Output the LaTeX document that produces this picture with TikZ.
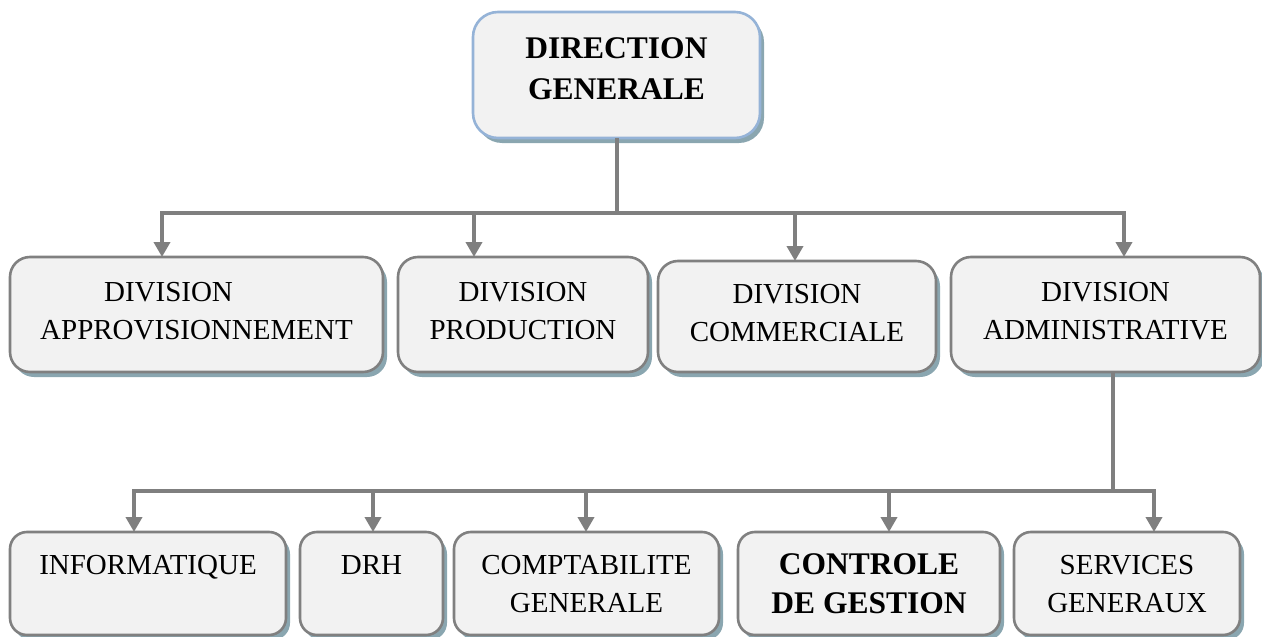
\documentclass[tikz,border=0pt]{standalone}
\usepackage{fontspec}
\setmainfont{Liberation Serif}
\usetikzlibrary{arrows.meta,shadows}
\definecolor{boxfill}{HTML}{F2F2F2}
\definecolor{boxline}{HTML}{808080}
\definecolor{topline}{HTML}{95B3D7}
\definecolor{shadowblue}{HTML}{8AA6B0}
\definecolor{linkgray}{HTML}{7F7F7F}
\tikzset{
	unitbox/.style={draw=boxline, line width=2.6pt, fill=boxfill, rounded corners=20pt, align=center, inner sep=0pt, outer sep=0pt, minimum height=115pt, text depth=8pt, font=\fontsize{29pt}{38pt}\selectfont, drop shadow={shadow xshift=4pt, shadow yshift=-5pt, fill=shadowblue, opacity=1}},
	servicebox/.style={unitbox, rounded corners=17pt, minimum height=103pt, text depth=0pt},
	headbox/.style={unitbox, draw=topline, rounded corners=25pt, minimum height=126pt, text depth=12pt, font=\fontsize{31.5pt}{41pt}\selectfont\bfseries},
	boldtext/.style={font=\fontsize{31.5pt}{39pt}\selectfont\bfseries},
	link/.style={draw=linkgray, line width=4pt},
	arrowlink/.style={link, -{Triangle[width=16pt,length=15pt]}}
}

\begin{document}
\begin{tikzpicture}[x=1pt, y=-1pt]
		%%%%% START %%%%%
		\useasboundingbox (0,0) rectangle (1262,637);
		
		\node[headbox, minimum width=287pt] (dg) at (616.5, 75) {DIRECTION\\GENERALE};
		
		\node[unitbox, minimum width=373pt] (appro) at (196.5, 314.5) {DIVISION\hspace*{56pt}\\APPROVISIONNEMENT};
		\node[unitbox, minimum width=250pt] (prod) at (523, 314.5) {DIVISION\\PRODUCTION};
		\node[unitbox, minimum width=278pt, minimum height=111pt] (comm) at (797, 316.5) {DIVISION\\COMMERCIALE};
		\node[unitbox, minimum width=309pt] (admin) at (1105.5, 314.5) {DIVISION\\ADMINISTRATIVE};
		
		\node[servicebox, minimum width=276pt] (info) at (148, 583.5) {INFORMATIQUE\\\phantom{I}};
		\node[servicebox, minimum width=143pt] (drh) at (371.5, 583.5) {DRH\\\phantom{I}};
		\node[servicebox, minimum width=265pt] (compta) at (586.5, 583.5) {COMPTABILITE\\GENERALE};
		\node[servicebox, boldtext, minimum width=262pt] (cdg) at (869, 583.5) {CONTROLE\\DE GESTION};
		\node[servicebox, minimum width=226pt] (sg) at (1127, 583.5) {SERVICES\\GENERAUX};
		
		% first level
		\coordinate (ta) at (162, 213);
		\coordinate (tb) at (474, 213);
		\coordinate (tc) at (795, 213);
		\coordinate (td) at (1124, 213);
		\draw[link] (dg.south) -- (dg.south |- ta);
		\draw[arrowlink] (td) -- (ta) -- (ta |- appro.north);
		\draw[arrowlink] (tb) -- (tb |- prod.north);
		\draw[arrowlink] (tc) -- (tc |- comm.north);
		\draw[arrowlink] (tc) -- (td) -- (td |- admin.north);
		
		% second level
		\coordinate (bj) at (1113, 491);
		\coordinate (ba) at (134, 491);
		\coordinate (bb) at (373, 491);
		\coordinate (bc) at (586, 491);
		\coordinate (bd) at (889, 491);
		\coordinate (be) at (1154, 491);
		\draw[link] (bj |- admin.south) -- (bj);
		\draw[arrowlink] (be) -- (ba) -- (ba |- info.north);
		\draw[arrowlink] (bb) -- (bb |- drh.north);
		\draw[arrowlink] (bc) -- (bc |- compta.north);
		\draw[arrowlink] (bd) -- (bd |- cdg.north);
		\draw[arrowlink] (bd) -- (be) -- (be |- sg.north);
		
		%%%%% END %%%%%
	\end{tikzpicture}
\end{document}
